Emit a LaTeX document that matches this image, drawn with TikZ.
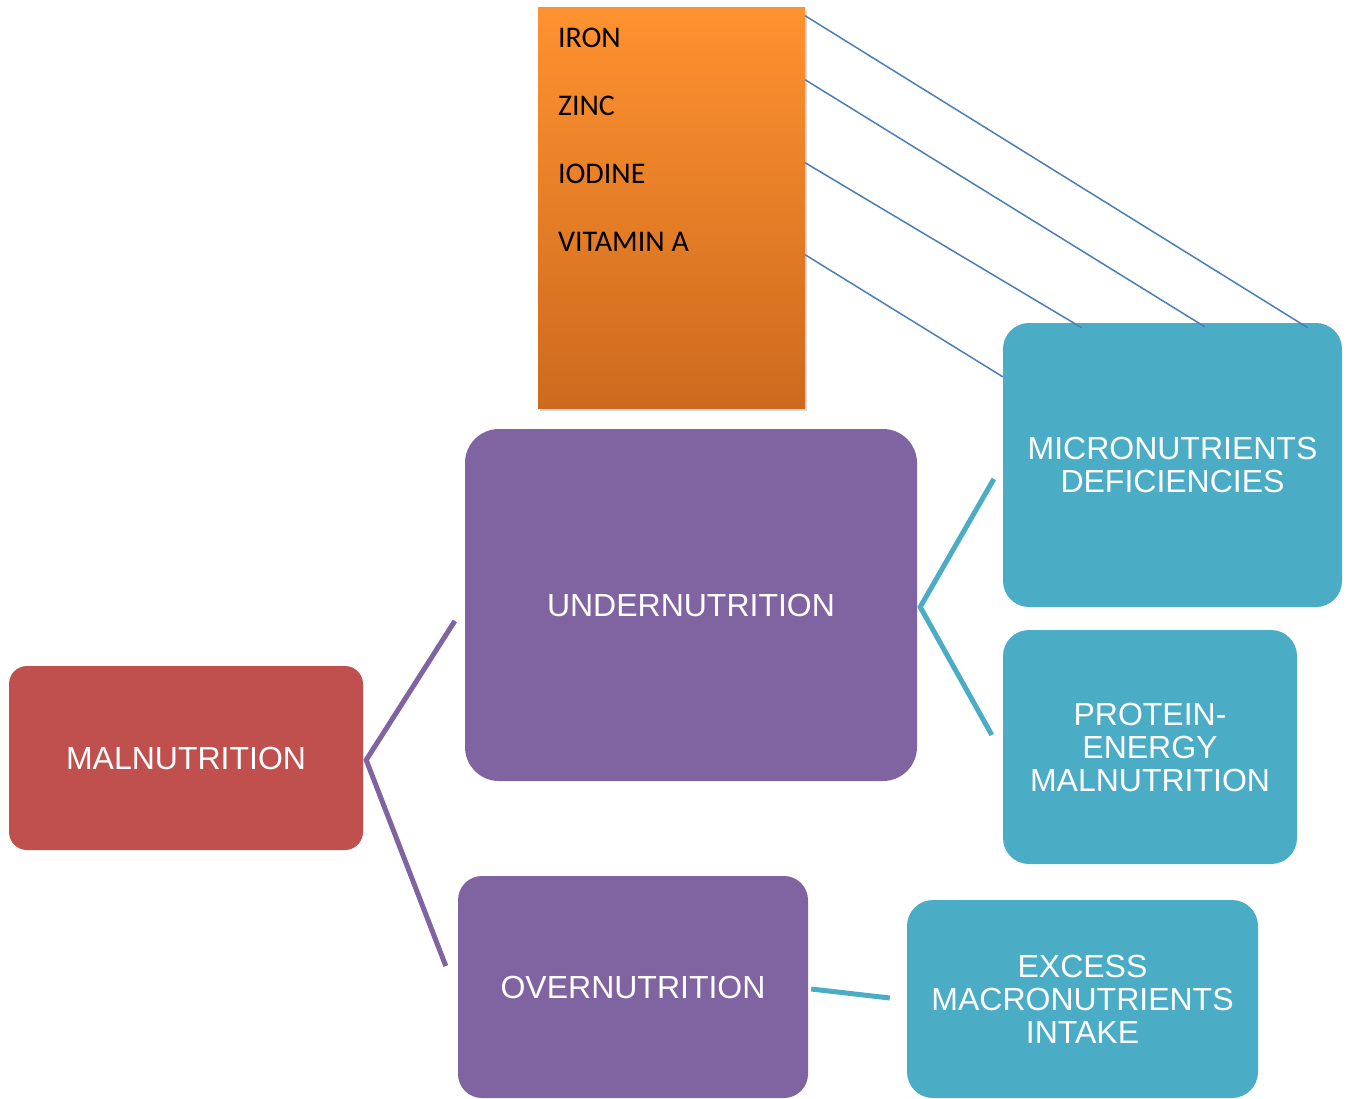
\documentclass[tikz,border=0pt]{standalone}
\usepackage{fontspec}
\setmainfont{Liberation Sans}
\newfontfamily\listfont{Carlito}
\usetikzlibrary{positioning, calc, shadows}
\definecolor{mnred}{RGB}{192,80,77}
\definecolor{mnpurple}{RGB}{128,100,162}
\definecolor{mnteal}{RGB}{75,172,198}
\definecolor{mnline}{RGB}{74,126,187}
\definecolor{mnorangetop}{RGB}{255,146,48}
\definecolor{mnorangebot}{RGB}{205,106,30}
\begin{document}
\begin{tikzpicture}[x=1pt, y=-1pt,
  box/.style={rectangle, inner sep=0pt, align=center, text=white, font=\fontsize{32}{33}\selectfont},
  root/.style={box, fill=mnred, rounded corners=18pt},
  branch/.style={box, fill=mnpurple, rounded corners=28pt},
  leaf/.style={box, fill=mnteal, rounded corners=26pt},
  items/.style={rectangle, inner sep=0pt, top color=mnorangetop, bottom color=mnorangebot, drop shadow={shadow xshift=2pt, shadow yshift=-3pt, opacity=0.3}},
  linkp/.style={draw=mnpurple, line width=5pt},
  linkt/.style={draw=mnteal, line width=5pt},
  linkb/.style={draw=mnline, line width=1.5pt}
]
\useasboundingbox (0,0) rectangle (1348,1099);
% Main boxes
\node[root, minimum width=354pt, minimum height=184pt] (mal) at (186,758) {MALNUTRITION};
\node[branch, minimum width=452pt, minimum height=352pt, rounded corners=34pt] (under) at (691,605) {UNDERNUTRITION};
\node[branch, minimum width=350pt, minimum height=222pt, rounded corners=24pt] (over) at (633,987) {OVERNUTRITION};
\node[leaf, minimum width=339pt, minimum height=284pt] (micro) at (1172.5,465) {MICRONUTRIENTS\\DEFICIENCIES};
\node[leaf, minimum width=294pt, minimum height=234pt] (protein) at (1150,747) {PROTEIN-\\ENERGY\\MALNUTRITION};
\node[leaf, minimum width=351pt, minimum height=198pt] (excess) at (1082.5,999) {EXCESS\\MACRONUTRIENTS\\INTAKE};
% Micronutrient list
\node[items, minimum width=267pt, minimum height=400pt] (list) at (671.5,208) {};
\node[anchor=north west, inner sep=0pt, align=left, font=\listfont\fontsize{30}{68}\selectfont] (listtxt) at ($(list.north west)+(20,20)$) {IRON\\ZINC\\IODINE\\VITAMIN A};
% Joints
\coordinate (underIn) at ($(under.west)+(-10,16)$);
\coordinate (malJ) at ($(mal.east)+(3,2)$);
\coordinate (overIn) at ($(over.west)+(-12,-21)$);
\coordinate (underJ) at ($(under.east)+(3,2)$);
\coordinate (microIn) at ($(micro.west)+(-9,14)$);
\coordinate (proteinIn) at ($(protein.west)+(-11,-12)$);
\coordinate (overOut) at ($(over.east)+(3,2)$);
\coordinate (excessIn) at ($(excess.west)+(-17,-1)$);
% Connectors
\draw[linkp] (underIn) -- (malJ) -- (overIn);
\draw[linkt] (microIn) -- (underJ) -- (proteinIn);
\draw[linkt] (overOut) -- (excessIn);
\draw[linkb] ($(list.north east)+(0,8)$) -- ($(micro.north west)+(305,5)$);
\draw[linkb] ($(list.north east)+(0,72)$) -- ($(micro.north west)+(202,4)$);
\draw[linkb] ($(list.north east)+(0,155)$) -- ($(micro.north west)+(79,5)$);
\draw[linkb] ($(list.north east)+(0,247)$) -- ($(micro.north west)+(0,54)$);
\end{tikzpicture}
\end{document}
